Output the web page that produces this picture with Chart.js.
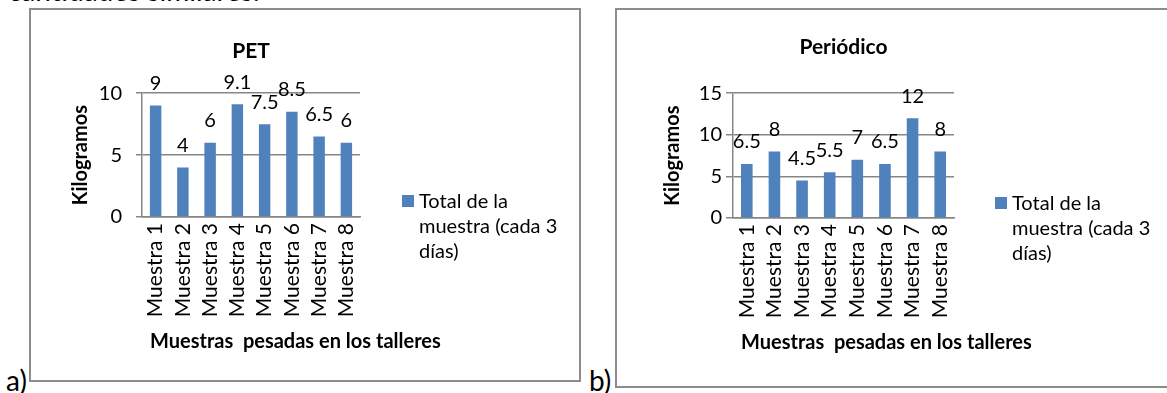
<!DOCTYPE html>
<html>
<head>
<meta charset="utf-8">
<script src="https://cdn.jsdelivr.net/npm/chart.js@4"></script>
<style>
  body { margin: 0; width: 1167px; height: 393px; overflow: hidden; background: #fff; position: relative; font-family: Lato, sans-serif; color: #000; }
  .box { position: absolute; border: 2px solid #8c8c8c; box-sizing: border-box; }
  canvas { position: absolute; }
  .doc { position: absolute; font-size: 28px; line-height: 28px; white-space: nowrap; }
  .legend { position: absolute; font-size: 20px; line-height: 25px; white-space: nowrap; }
  .legend .sw { position: absolute; left: -17px; top: 7px; width: 12px; height: 12px; }
</style>
</head>
<body>
<div class="doc" style="left:8px; top:-24px;">cantidades similares.</div>
<div class="doc" style="left:6px; top:366px;">a)</div>
<div class="doc" style="left:589px; top:366px;">b)</div>

<div class="box" style="left:29px; top:8px; width:552px; height:374px;"></div>
<div class="box" style="left:615px; top:8px; width:570px; height:380px;"></div>

<canvas id="pet" width="548" height="370" style="left:31px; top:10px;"></canvas>
<canvas id="periodico" width="550" height="376" style="left:617px; top:10px;"></canvas>

<div class="legend" id="legPet" style="left:419px; top:188px;"><span class="sw"></span>Total de la<br>muestra (cada 3<br>días)</div>
<div class="legend" id="legPer" style="left:1012px; top:190px;"><span class="sw"></span>Total de la<br>muestra (cada 3<br>días)</div>

<script>
const categories = ['Muestra 1', 'Muestra 2', 'Muestra 3', 'Muestra 4', 'Muestra 5', 'Muestra 6', 'Muestra 7', 'Muestra 8'];
const petValues = [9, 4, 6, 9.1, 7.5, 8.5, 6.5, 6];
const periodicoValues = [6.5, 8, 4.5, 5.5, 7, 6.5, 12, 8];
const petTicks = [0, 5, 10];
const periodicoTicks = [0, 5, 10, 15];
const seriesName = 'Total de la muestra (cada 3 días)';
const xTitle = 'Muestras  pesadas en los talleres';
const yTitle = 'Kilogramos';

const barColor = '#4f81bd';
const gridColor = '#868686';
const fontFamily = 'Lato, sans-serif';

document.querySelectorAll('.legend .sw').forEach(el => el.style.background = barColor);

// value labels above each bar
const valueLabels = {
    id: 'valueLabels',
    afterDatasetsDraw(chart) {
        const ctx = chart.ctx;
        const meta = chart.getDatasetMeta(0);
        const data = chart.data.datasets[0].data;
        ctx.save();
        ctx.font = '20px ' + fontFamily;
        ctx.fillStyle = '#000';
        ctx.textAlign = 'center';
        ctx.textBaseline = 'middle';
        meta.data.forEach((bar, i) => {
            ctx.fillText(String(data[i]), bar.x, bar.y - 22);
        });
        ctx.restore();
    }
};

// x axis title, not squeezed to the plot width like the built-in one
const xAxisTitle = {
    id: 'xAxisTitle',
    afterDraw(chart, args, opts) {
        const ctx = chart.ctx;
        ctx.save();
        ctx.font = 'bold 20px ' + fontFamily;
        ctx.fillStyle = '#000';
        ctx.textAlign = 'left';
        ctx.textBaseline = 'middle';
        ctx.fillText(xTitle, chart.chartArea.left + opts.dx, chart.height - opts.fromBottom);
        ctx.restore();
    }
};

function makeChart(id, title, values, ticks, g) {
    const ctx = document.getElementById(id).getContext('2d');
    return new Chart(ctx, {
        type: 'bar',
        data: {
            labels: categories,
            datasets: [{
                label: seriesName,
                data: values,
                backgroundColor: barColor,
                borderWidth: 0,
                categoryPercentage: 1,
                barPercentage: 0.42
            }]
        },
        options: {
            responsive: false,
            animation: false,
            layout: { padding: { right: g.right } },
            plugins: {
                legend: { display: false },
                tooltip: { enabled: false },
                title: {
                    display: true,
                    text: title,
                    fullSize: false,
                    color: '#000',
                    font: { family: fontFamily, size: 21, weight: 'bold' },
                    padding: { top: g.titleTop, bottom: g.titleBottom }
                },
                xAxisTitle: { dx: 8, fromBottom: g.xTitleFromBottom }
            },
            scales: {
                x: {
                    grid: { display: false, drawTicks: false },
                    border: { display: true, color: gridColor, width: 1.5 },
                    ticks: {
                        color: '#000',
                        font: { family: fontFamily, size: 21 },
                        autoSkip: false,
                        minRotation: 90,
                        maxRotation: 90,
                        padding: 6
                    },
                    afterFit(scale) { scale.height = g.xHeight; }
                },
                y: {
                    min: ticks[0],
                    max: ticks[ticks.length - 1],
                    afterBuildTicks(scale) { scale.ticks = ticks.map(v => ({ value: v })); },
                    grid: { color: gridColor, lineWidth: 1.5, tickLength: g.tickLen },
                    border: { display: true, color: gridColor, width: 1.5 },
                    ticks: {
                        color: '#000',
                        font: { family: fontFamily, size: 20 },
                        padding: g.tickPad
                    },
                    title: {
                        display: true,
                        text: yTitle,
                        color: '#000',
                        font: { family: fontFamily, size: 20, weight: 'bold' },
                        padding: { top: g.yTitlePad, bottom: 0 }
                    },
                    afterFit(scale) { scale.width = g.yWidth; }
                }
            }
        },
        plugins: [valueLabels, xAxisTitle]
    });
}

makeChart('pet', 'PET', petValues, petTicks, {
    right: 219, titleTop: 29, titleBottom: 29, xHeight: 163, xTitleFromBottom: 38,
    yWidth: 111, yTitlePad: 38, tickLen: 6, tickPad: 14
});

makeChart('periodico', 'Periódico', periodicoValues, periodicoTicks, {
    right: 213, titleTop: 25, titleBottom: 33, xHeight: 168, xTitleFromBottom: 43,
    yWidth: 116, yTitlePad: 44, tickLen: 7, tickPad: 4
});
</script>
</body>
</html>
